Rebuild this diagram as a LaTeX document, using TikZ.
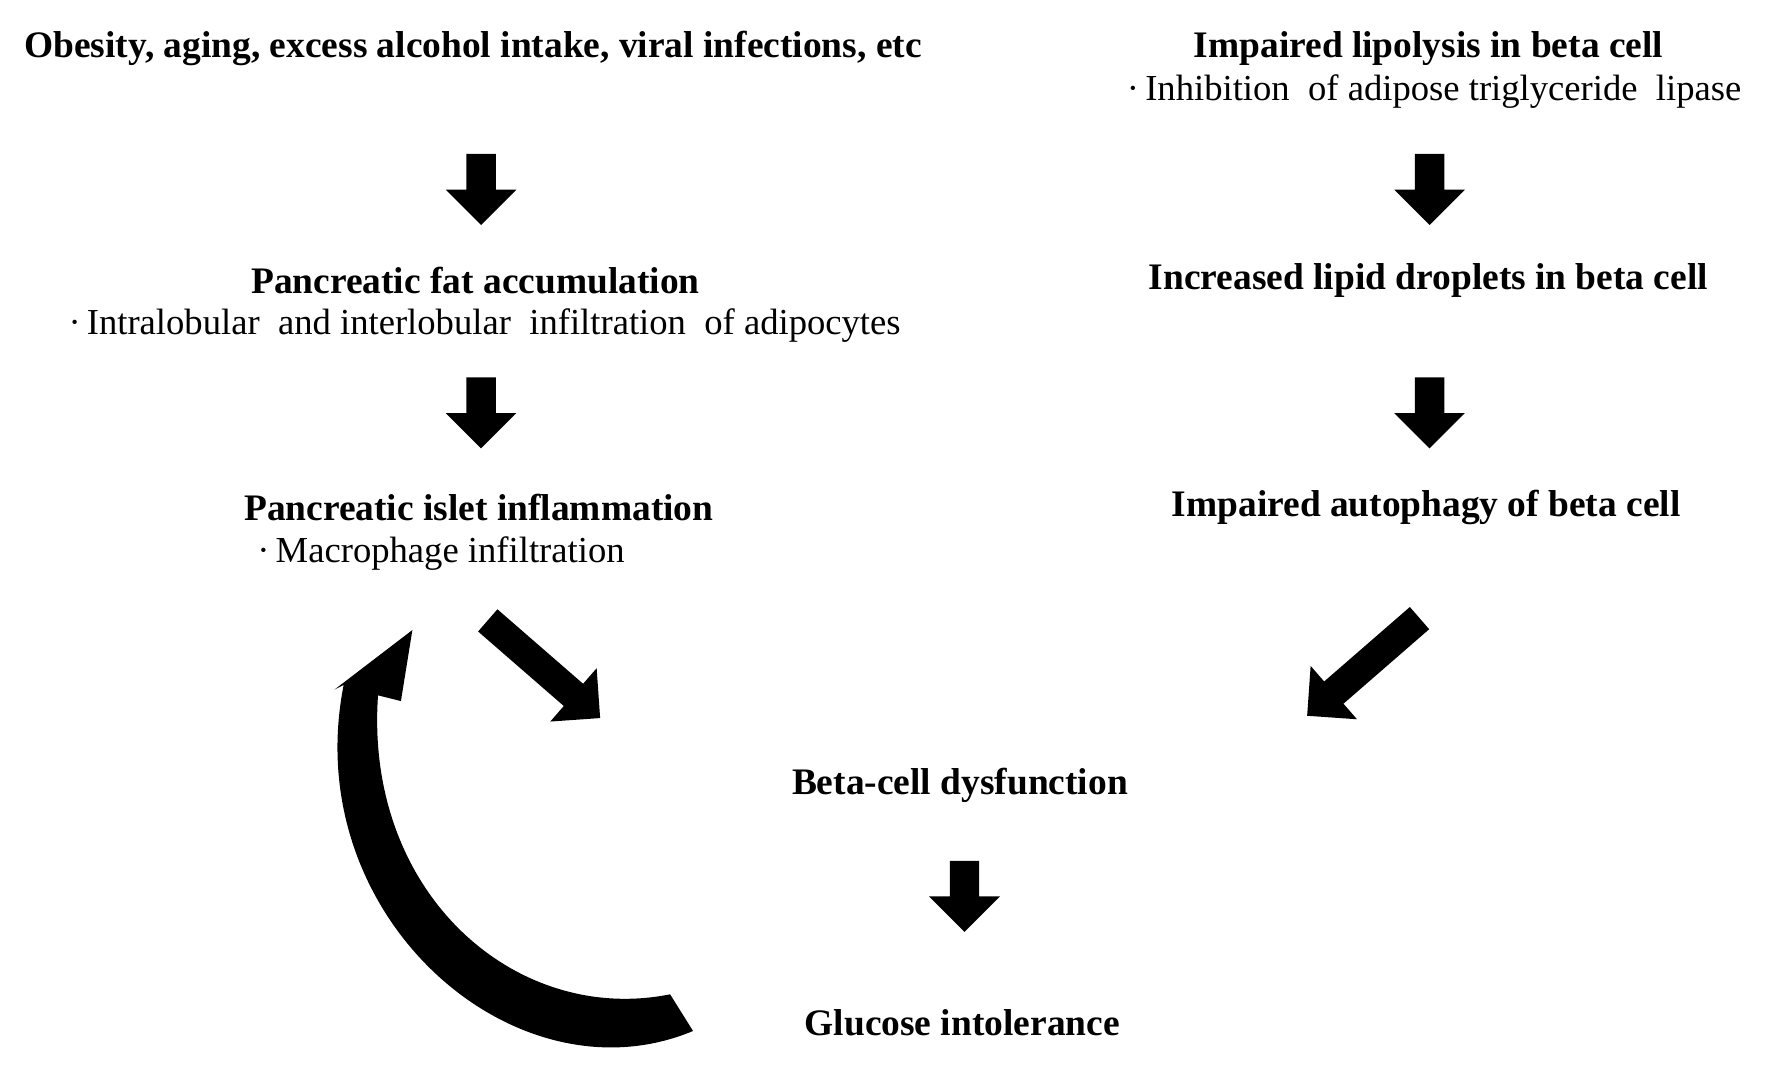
\documentclass[tikz,border=0pt]{standalone}
\usepackage{fontspec}
\setmainfont{Liberation Serif}
\usetikzlibrary{shapes.arrows}
\begin{document}
\begin{tikzpicture}[x=0.02cm,y=-0.02cm,
  b/.style={font=\fontsize{18.6}{20}\selectfont\bfseries,inner sep=0},
  t/.style={font=\fontsize{18.2}{20}\selectfont,inner sep=0},
  blk/.style={single arrow,fill=black,draw=none,inner sep=0.25cm,
    single arrow head extend=0.36cm,single arrow tip angle=90,
    minimum height=1.24cm,outer sep=0}]
\useasboundingbox (0,0) rectangle (1560,950);
\node[b] (obes) at (413,42) {Obesity, aging, excess alcohol intake, viral infections, etc};
\node[b] (lipo) at (1247,42) {Impaired lipolysis in beta cell};
\node[t] (inhib) at (1252,80) {·\,Inhibition \ of adipose triglyceride \ lipase};
\node[b] (fat) at (415,245) {Pancreatic fat accumulation};
\node[t] (intra) at (423,284) {·\,Intralobular \ and interlobular \ infiltration \ of adipocytes};
\node[b] (drop) at (1247,245) {Increased lipid droplets in beta cell};
\node[b] (islet) at (418,443) {Pancreatic islet inflammation};
\node[t] (macro) at (385,483) {·\,Macrophage infiltration};
\node[b] (auto) at (1245,443) {Impaired autophagy of beta cell};
\node[b] (beta) at (838,686) {Beta-cell dysfunction};
\node[b] (gluc) at (840,893) {Glucose intolerance};
\node[blk,rotate=-90] (a1) at (420,159) {};
\node[blk,rotate=-90] (a2) at (1248,159) {};
\node[blk,rotate=-90] (a3) at (420,354) {};
\node[blk,rotate=-90] (a4) at (1248,354) {};
\node[blk,rotate=-90] (a5) at (842,776) {};
\node[blk,rotate=-41,minimum height=2.6cm] (a6) at (470,580) {};
\node[blk,rotate=-139,minimum height=2.6cm] (a7) at (1195,578) {};
\fill (605,900) .. controls (450,965) and (260,800) .. (300,598)
  -- (292,602) -- (360,550) -- (350,612) -- (330,607)
  .. controls (318,780) and (450,895) .. (585,868) -- cycle;
\end{tikzpicture}
\end{document}
